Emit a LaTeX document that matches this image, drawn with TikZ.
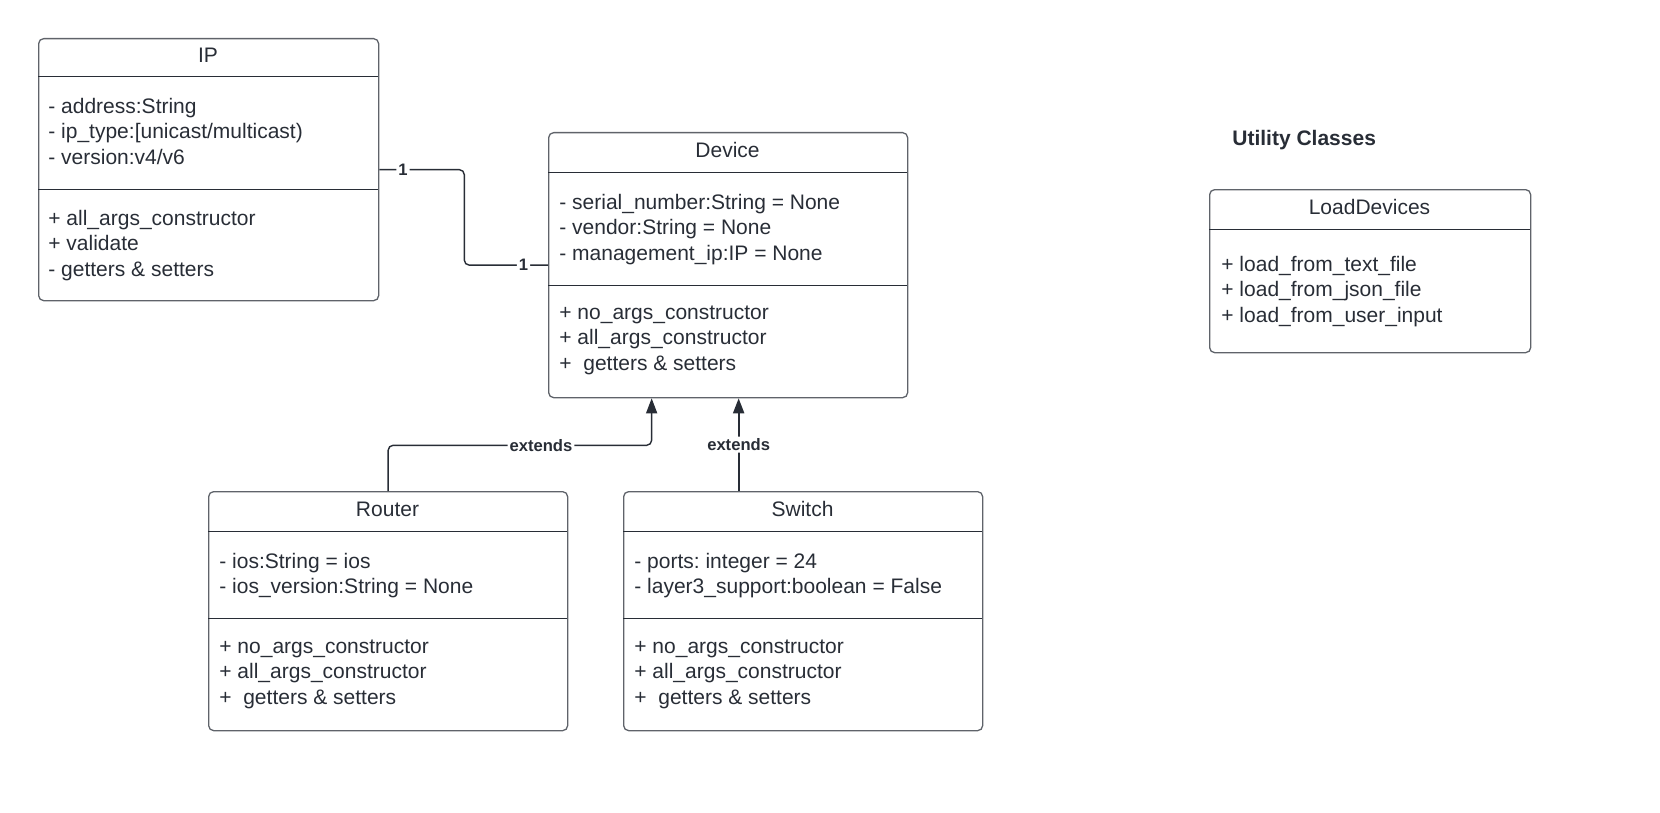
\documentclass[tikz,border=0pt]{standalone}
\usepackage{fontspec}
\setmainfont{Liberation Sans}
\usetikzlibrary{arrows.meta}
\frenchspacing

\definecolor{umltext}{RGB}{40,45,54}
\definecolor{umlline}{RGB}{95,99,106}

\tikzset{
  classbox/.style={draw=umlline, line width=0.65pt, rounded corners=2.5pt, anchor=north west, inner sep=0pt},
  sepline/.style={draw=umltext, line width=0.5pt},
  members/.style={anchor=north west, align=left, inner sep=0pt, text=umltext, font=\fontsize{10.5}{12.75}\selectfont},
  classname/.style={inner sep=0pt, text=umltext, font=\fontsize{10.5}{12.75}\selectfont},
  conn/.style={draw=umltext, line width=0.7pt, rounded corners=2.5pt},
  extends/.style={conn, -{Triangle[length=7.5pt,width=5.5pt]}},
  lbl/.style={fill=white, inner sep=1pt, text=umltext, font=\bfseries\fontsize{8.3}{10}\selectfont},
}

\begin{document}
\begin{tikzpicture}[x=0.5pt, y=-0.5pt]
  \useasboundingbox (0,0) rectangle (1660,813);

  % IP
  \node[classbox, minimum width=170pt, minimum height=131pt] (ip) at (38,38) {};
  \node[classname] (ip-name) at (208,55) {IP};
  \draw[sepline] (38,77) -- (378,77);
  \node[members] (ip-attr) at (48,97.5) {- address:String\\- ip\_type:[unicast/multicast)\\- version:v4/v6};
  \draw[sepline] (38,189) -- (378,189);
  \node[members] (ip-meth) at (48,209.5) {+ all\_args\_constructor\\+ validate\\- getters \& setters};

  % Device
  \node[classbox, minimum width=179.5pt, minimum height=132.5pt] (dev) at (548,132) {};
  \node[classname] (dev-name) at (727.5,150) {Device};
  \draw[sepline] (548,172) -- (907,172);
  \node[members] (dev-attr) at (559,193.5) {- serial\_number:String = None\\- vendor:String = None\\- management\_ip:IP = None};
  \draw[sepline] (548,285) -- (907,285);
  \node[members] (dev-meth) at (559,305.5) {+ no\_args\_constructor\\+ all\_args\_constructor\\+ \ getters \& setters};

  % Router
  \node[classbox, minimum width=179.5pt, minimum height=119.5pt] (router) at (208,491) {};
  \node[classname] (router-name) at (387.5,509) {Router};
  \draw[sepline] (208,531) -- (567,531);
  \node[members] (router-attr) at (219,552.5) {- ios:String = ios\\- ios\_version:String = None};
  \draw[sepline] (208,618) -- (567,618);
  \node[members] (router-meth) at (219,639.5) {+ no\_args\_constructor\\+ all\_args\_constructor\\+ \ getters \& setters};

  % Switch
  \node[classbox, minimum width=179.5pt, minimum height=119.5pt] (switch) at (623,491) {};
  \node[classname] (switch-name) at (802.5,509) {Switch};
  \draw[sepline] (623,531) -- (982,531);
  \node[members] (switch-attr) at (634,552.5) {- ports: integer = 24\\- layer3\_support:boolean = False};
  \draw[sepline] (623,618) -- (982,618);
  \node[members] (switch-meth) at (634,639.5) {+ no\_args\_constructor\\+ all\_args\_constructor\\+ \ getters \& setters};

  % utility classes
  \node[anchor=west, inner sep=0pt, text=umltext, font=\bfseries\fontsize{10.5}{12.75}\selectfont] (util) at (1232,140) {Utility Classes};
  \node[classbox, minimum width=160.5pt, minimum height=81.5pt] (load) at (1209,189) {};
  \node[classname] (load-name) at (1369.5,207) {LoadDevices};
  \draw[sepline] (1209,229) -- (1530,229);
  \node[members] (load-meth) at (1221,255.5) {+ load\_from\_text\_file\\+ load\_from\_json\_file\\+ load\_from\_user\_input};

  % connectors
  \draw[conn] (ip.east) -- node[lbl, pos=0.28] {1} ++(42.5pt,0) |- node[lbl, pos=0.853] {1} (dev.west);
  \draw[extends] (router.north) |- node[lbl, pos=0.79] {extends} ([xshift=-38.25pt, yshift=-23.5pt]dev.south) -- ([xshift=-38.25pt]dev.south);
  \draw[extends, line width=1pt] ([xshift=-32.25pt]switch.north) -- node[lbl] {extends} ([xshift=5.25pt]dev.south);
\end{tikzpicture}
\end{document}
